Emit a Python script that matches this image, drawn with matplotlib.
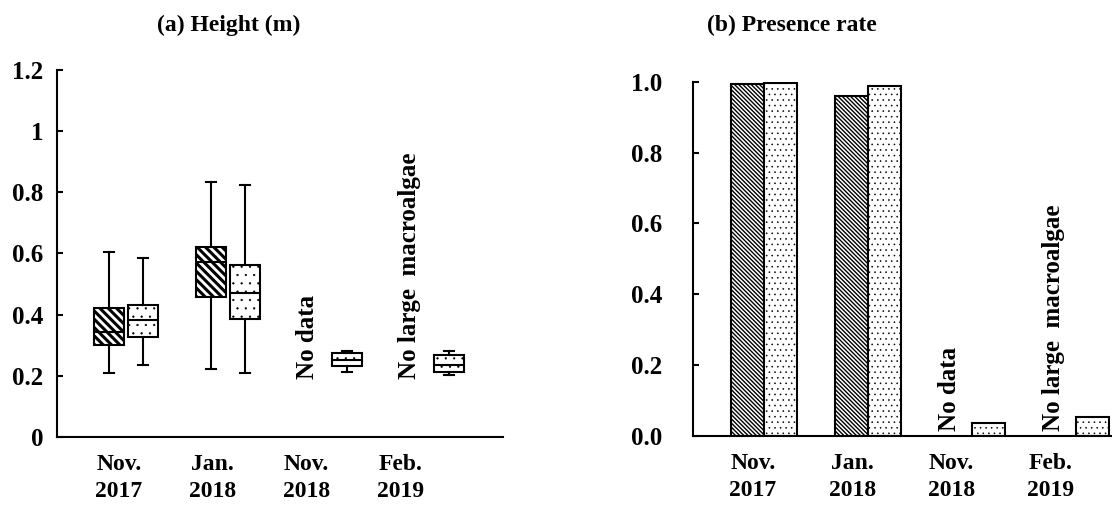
import numpy as np
import matplotlib.pyplot as plt

plt.rcParams['font.family'] = ['Liberation Serif', 'DejaVu Serif']
plt.rcParams['font.weight'] = 'bold'
plt.rcParams['hatch.linewidth'] = 1.5
plt.rcParams['axes.linewidth'] = 1.5

months = ['Nov.\n2017', 'Jan.\n2018', 'Nov.\n2018', 'Feb.\n2019']
notes = ['', '', 'No data', 'No large  macroalgae']

# height (m): whisker low, Q1, median, Q3, whisker high (nan = not sampled)
hatched_lo = [0.21, 0.222, np.nan, np.nan]
hatched_q1 = [0.30, 0.456, np.nan, np.nan]
hatched_med = [0.344, 0.571, np.nan, np.nan]
hatched_q3 = [0.423, 0.621, np.nan, np.nan]
hatched_hi = [0.603, 0.832, np.nan, np.nan]

dotted_lo = [0.235, 0.208, 0.214, 0.203]
dotted_q1 = [0.326, 0.386, 0.232, 0.214]
dotted_med = [0.383, 0.469, 0.252, 0.235]
dotted_q3 = [0.432, 0.562, 0.274, 0.268]
dotted_hi = [0.584, 0.825, 0.282, 0.281]

# presence rate
rate_hatched = [0.993, 0.961, np.nan, np.nan]
rate_dotted = [0.996, 0.989, 0.036, 0.055]

height_ticks = [0, 0.2, 0.4, 0.6, 0.8, 1.0, 1.2]
height_ticklabels = ['0', '0.2', '0.4', '0.6', '0.8', '1', '1.2']
rate_ticks = [0, 0.2, 0.4, 0.6, 0.8, 1.0]

fig = plt.figure(figsize=(11.12, 5.05), dpi=100)
ax1 = fig.add_axes([0.0513, 0.1347, 0.401, 0.727])
ax2 = fig.add_axes([0.623, 0.1366, 0.377, 0.7016])

x = np.arange(len(months))


def hatch_width(patches, lw):
    for pt in patches:
        try:
            pt.set_hatch_linewidth(lw)
        except AttributeError:
            pass


def box_stats(lo, q1, med, q3, hi):
    stats, pos = [], []
    for i in range(len(lo)):
        if np.isnan(med[i]):
            continue
        stats.append(dict(whislo=lo[i], q1=q1[i], med=med[i], q3=q3[i],
                          whishi=hi[i], fliers=[]))
        pos.append(x[i])
    return stats, np.array(pos)


def draw_boxes(ax, stats, pos, hatch, hlw):
    art = ax.bxp(stats, positions=pos, widths=0.30, capwidths=0.10,
                 patch_artist=True, showfliers=False,
                 boxprops=dict(facecolor='white', edgecolor='black', hatch=hatch, linewidth=1.5),
                 medianprops=dict(color='black', linewidth=1.5),
                 whiskerprops=dict(color='black', linewidth=1.5),
                 capprops=dict(color='black', linewidth=1.5))
    hatch_width(art['boxes'], hlw)


# (a) height boxes
s, p = box_stats(hatched_lo, hatched_q1, hatched_med, hatched_q3, hatched_hi)
draw_boxes(ax1, s, p - 0.167, '\\' * 4, 2.2)
s, p = box_stats(dotted_lo, dotted_q1, dotted_med, dotted_q3, dotted_hi)
draw_boxes(ax1, s, p + 0.167, '..', 0.4)

ax1.set_xlim(-0.676, 3.696)
ax1.set_ylim(0, 1.2)
ax1.set_yticks(height_ticks)
ax1.set_yticklabels(height_ticklabels)
ax1.set_xticks(x * 0.92 - 0.07)
ax1.set_xticklabels(months)

# (b) presence rate bars
m = ~np.isnan(rate_hatched)
bars = ax2.bar(x[m] - 0.16, np.array(rate_hatched)[m], width=0.32, color='white',
               edgecolor='black', hatch='\\' * 8, linewidth=1.5)
hatch_width(bars, 1.0)
bars = ax2.bar(x + 0.16, rate_dotted, width=0.32, color='white',
               edgecolor='black', hatch='...', linewidth=1.5)
hatch_width(bars, 0.4)

ax2.set_xlim(-0.683, 3.346)
ax2.set_ylim(0, 1.0)
ax2.set_yticks(rate_ticks)
ax2.set_yticklabels(['%.1f' % t for t in rate_ticks])
ax2.set_xticks(x * 0.955 - 0.106)
ax2.set_xticklabels(months)

for ax, ybase, ypad in ((ax1, 0.19, 10), (ax2, 0.015, 22)):
    for side in ('top', 'right'):
        ax.spines[side].set_visible(False)
    ax.tick_params(axis='y', direction='in', length=4, width=1.5,
                   labelsize=18, pad=ypad)
    ax.tick_params(axis='x', length=0, labelsize=17, pad=12)
    for lab in ax.get_xticklabels():
        lab.set_linespacing(1.4)
    for i, note in enumerate(notes):
        if note:
            ax.text(x[i] - 0.22, ybase, note, rotation=90, ha='center',
                    va='bottom', fontsize=18, fontweight='bold')

fig.text(0.206, 0.95, '(a) Height (m)', ha='center', va='center', fontsize=17)
fig.text(0.712, 0.95, '(b) Presence rate', ha='center', va='center', fontsize=17)

fig.savefig('out.png', dpi=100)
